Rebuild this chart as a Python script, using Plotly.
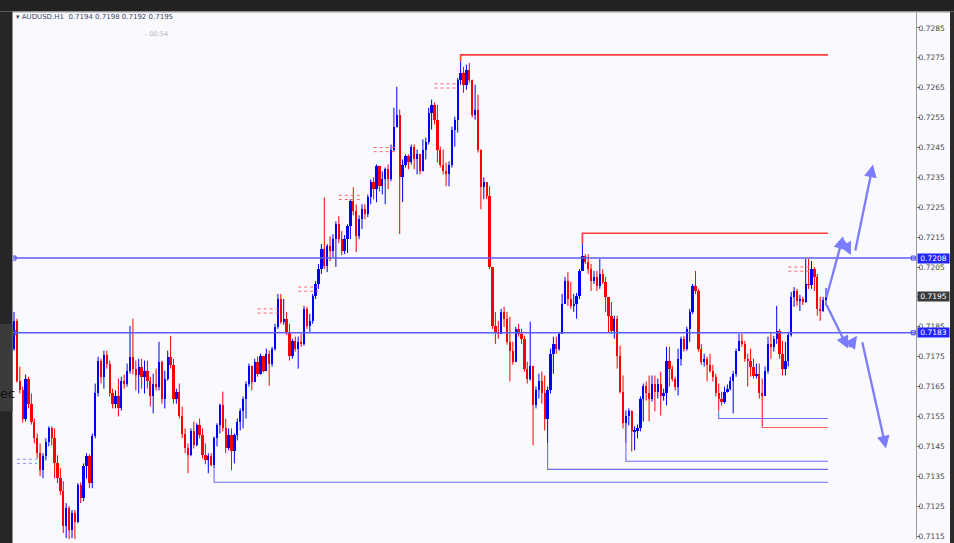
import plotly.graph_objects as go

# ---------------- data (AUDUSD H1) ----------------
first_open = 0.71777
close = [
0.71870, 0.71670, 0.71637, 0.71540, 0.71677, 0.71593, 0.71533, 0.71477, 0.71427, 0.71370,
0.71417, 0.71463, 0.71510, 0.71477, 0.71393, 0.71343, 0.71300, 0.71183, 0.71243, 0.71170,
0.71227, 0.71197, 0.71320, 0.71277, 0.71383, 0.71417, 0.71327, 0.71483, 0.71627, 0.71737,
0.71683, 0.71757, 0.71727, 0.71627, 0.71593, 0.71620, 0.71577, 0.71670, 0.71657, 0.71703,
0.71750, 0.71710, 0.71690, 0.71717, 0.71683, 0.71703, 0.71670, 0.71617, 0.71660, 0.71650,
0.71733, 0.71610, 0.71677, 0.71750, 0.71723, 0.71610, 0.71633, 0.71553, 0.71493, 0.71443,
0.71420, 0.71500, 0.71453, 0.71520, 0.71487, 0.71420, 0.71403, 0.71417, 0.71387, 0.71477,
0.71520, 0.71587, 0.71510, 0.71443, 0.71487, 0.71433, 0.71487, 0.71533, 0.71567, 0.71610,
0.71660, 0.71720, 0.71667, 0.71733, 0.71693, 0.71753, 0.71703, 0.71760, 0.71727, 0.71777,
0.71850, 0.71943, 0.71867, 0.71877, 0.71833, 0.71753, 0.71803, 0.71777, 0.71800, 0.71793,
0.71910, 0.71853, 0.71870, 0.71953, 0.71993, 0.72043, 0.72110, 0.72053, 0.72120, 0.72103,
0.72143, 0.72193, 0.72143, 0.72103, 0.72143, 0.72187, 0.72270, 0.72237, 0.72153, 0.72210,
0.72243, 0.72227, 0.72283, 0.72333, 0.72310, 0.72387, 0.72320, 0.72343, 0.72377, 0.72343,
0.72443, 0.72520, 0.72560, 0.72350, 0.72393, 0.72420, 0.72400, 0.72453, 0.72410, 0.72427,
0.72370, 0.72443, 0.72467, 0.72567, 0.72593, 0.72543, 0.72443, 0.72393, 0.72370, 0.72360,
0.72393, 0.72510, 0.72543, 0.72677, 0.72700, 0.72660, 0.72710, 0.72677, 0.72560, 0.72577,
0.72443, 0.72317, 0.72333, 0.72287, 0.72050, 0.71853, 0.71833, 0.71827, 0.71900, 0.71877,
0.71800, 0.71770, 0.71733, 0.71843, 0.71827, 0.71810, 0.71710, 0.71677, 0.71720, 0.71587,
0.71637, 0.71670, 0.71627, 0.71543, 0.71637, 0.71760, 0.71793, 0.71777, 0.71827, 0.71927,
0.72003, 0.71943, 0.71920, 0.71927, 0.71953, 0.72037, 0.72087, 0.72067, 0.72043, 0.72003,
0.72017, 0.71987, 0.72027, 0.72000, 0.71950, 0.71887, 0.71837, 0.71877, 0.71753, 0.71633,
0.71527, 0.71550, 0.71567, 0.71500, 0.71503, 0.71510, 0.71610, 0.71653, 0.71627, 0.71610,
0.71660, 0.71633, 0.71660, 0.71617, 0.71627, 0.71737, 0.71710, 0.71677, 0.71650, 0.71743,
0.71810, 0.71777, 0.71843, 0.71900, 0.71987, 0.71970, 0.71777, 0.71733, 0.71743, 0.71723,
0.71703, 0.71683, 0.71627, 0.71610, 0.71600, 0.71633, 0.71643, 0.71670, 0.71693, 0.71770,
0.71803, 0.71793, 0.71743, 0.71737, 0.71717, 0.71687, 0.71693, 0.71627, 0.71620, 0.71703,
0.71793, 0.71783, 0.71810, 0.71837, 0.71760, 0.71710, 0.71737, 0.71823, 0.71950, 0.71970,
0.71937, 0.71943, 0.71933, 0.71993, 0.71990, 0.72043, 0.72017, 0.71910, 0.71903, 0.71940,
0.71950,
]
high = [
0.71900, 0.71877, 0.71717, 0.71650, 0.71690, 0.71683, 0.71627, 0.71543, 0.71493, 0.71460,
0.71427, 0.71477, 0.71517, 0.71517, 0.71510, 0.71420, 0.71377, 0.71333, 0.71260, 0.71250,
0.71237, 0.71237, 0.71327, 0.71330, 0.71393, 0.71427, 0.71423, 0.71493, 0.71660, 0.71750,
0.71743, 0.71770, 0.71770, 0.71737, 0.71643, 0.71637, 0.71677, 0.71683, 0.71690, 0.71727,
0.71853, 0.71877, 0.71737, 0.71743, 0.71743, 0.71737, 0.71737, 0.71683, 0.71693, 0.71710,
0.71800, 0.71737, 0.71703, 0.71770, 0.71820, 0.71743, 0.71643, 0.71660, 0.71583, 0.71510,
0.71460, 0.71510, 0.71533, 0.71527, 0.71543, 0.71510, 0.71460, 0.71427, 0.71427, 0.71483,
0.71527, 0.71593, 0.71633, 0.71543, 0.71510, 0.71510, 0.71493, 0.71543, 0.71577, 0.71617,
0.71667, 0.71727, 0.71717, 0.71743, 0.71750, 0.71760, 0.71753, 0.71777, 0.71770, 0.71783,
0.71860, 0.71960, 0.71960, 0.71943, 0.71900, 0.71860, 0.71810, 0.71817, 0.71817, 0.71827,
0.71920, 0.71917, 0.71893, 0.71960, 0.72003, 0.72060, 0.72127, 0.72283, 0.72127, 0.72153,
0.72160, 0.72203, 0.72220, 0.72170, 0.72157, 0.72193, 0.72277, 0.72317, 0.72260, 0.72223,
0.72260, 0.72260, 0.72293, 0.72343, 0.72350, 0.72393, 0.72377, 0.72370, 0.72383, 0.72393,
0.72460, 0.72583, 0.72653, 0.72577, 0.72410, 0.72427, 0.72427, 0.72460, 0.72460, 0.72443,
0.72420, 0.72477, 0.72483, 0.72583, 0.72610, 0.72600, 0.72593, 0.72453, 0.72443, 0.72400,
0.72403, 0.72520, 0.72553, 0.72683, 0.72737, 0.72720, 0.72727, 0.72733, 0.72677, 0.72660,
0.72627, 0.72443, 0.72350, 0.72333, 0.72320, 0.72050, 0.71900, 0.71870, 0.71910, 0.71917,
0.71900, 0.71883, 0.71800, 0.71850, 0.71860, 0.71843, 0.71820, 0.71733, 0.71867, 0.71710,
0.71650, 0.71693, 0.71700, 0.71687, 0.71650, 0.71777, 0.71817, 0.71817, 0.71833, 0.71960,
0.72017, 0.72033, 0.72000, 0.71960, 0.71963, 0.72043, 0.72127, 0.72093, 0.72093, 0.72060,
0.72037, 0.72037, 0.72077, 0.72043, 0.72017, 0.71943, 0.71933, 0.71887, 0.71887, 0.71787,
0.71687, 0.71570, 0.71577, 0.71570, 0.71517, 0.71523, 0.71617, 0.71660, 0.71667, 0.71687,
0.71687, 0.71687, 0.71677, 0.71700, 0.71643, 0.71783, 0.71783, 0.71720, 0.71683, 0.71777,
0.71817, 0.71820, 0.71850, 0.71910, 0.71993, 0.72037, 0.71977, 0.71793, 0.71760, 0.71750,
0.71760, 0.71723, 0.71693, 0.71660, 0.71633, 0.71650, 0.71657, 0.71683, 0.71703, 0.71777,
0.71827, 0.71827, 0.71803, 0.71760, 0.71777, 0.71743, 0.71727, 0.71727, 0.71677, 0.71717,
0.71817, 0.71833, 0.71820, 0.71920, 0.71843, 0.71803, 0.71800, 0.71833, 0.71967, 0.71983,
0.71977, 0.71957, 0.71950, 0.72077, 0.72077, 0.72070, 0.72050, 0.72027, 0.71950, 0.71950,
0.71980,
]
low = [
0.71770, 0.71663, 0.71627, 0.71530, 0.71533, 0.71577, 0.71523, 0.71460, 0.71410, 0.71350,
0.71343, 0.71403, 0.71450, 0.71453, 0.71343, 0.71327, 0.71287, 0.71160, 0.71143, 0.71127,
0.71143, 0.71127, 0.71193, 0.71260, 0.71267, 0.71343, 0.71310, 0.71310, 0.71477, 0.71617,
0.71660, 0.71643, 0.71710, 0.71617, 0.71577, 0.71577, 0.71550, 0.71570, 0.71643, 0.71650,
0.71693, 0.71690, 0.71637, 0.71627, 0.71643, 0.71627, 0.71643, 0.71583, 0.71560, 0.71637,
0.71637, 0.71593, 0.71577, 0.71670, 0.71710, 0.71593, 0.71593, 0.71543, 0.71477, 0.71427,
0.71360, 0.71417, 0.71443, 0.71450, 0.71477, 0.71410, 0.71390, 0.71360, 0.71383, 0.71377,
0.71450, 0.71493, 0.71500, 0.71427, 0.71437, 0.71370, 0.71393, 0.71470, 0.71503, 0.71510,
0.71543, 0.71650, 0.71637, 0.71670, 0.71683, 0.71690, 0.71697, 0.71703, 0.71653, 0.71717,
0.71770, 0.71843, 0.71860, 0.71857, 0.71823, 0.71737, 0.71743, 0.71767, 0.71710, 0.71783,
0.71787, 0.71843, 0.71833, 0.71860, 0.71943, 0.71977, 0.72027, 0.72043, 0.72033, 0.72070,
0.72083, 0.72050, 0.72130, 0.72090, 0.72093, 0.72097, 0.72143, 0.72223, 0.72100, 0.72143,
0.72177, 0.72210, 0.72217, 0.72260, 0.72277, 0.72267, 0.72303, 0.72293, 0.72260, 0.72310,
0.72337, 0.72437, 0.72517, 0.72160, 0.72267, 0.72383, 0.72377, 0.72393, 0.72377, 0.72360,
0.72360, 0.72370, 0.72410, 0.72460, 0.72510, 0.72527, 0.72400, 0.72383, 0.72360, 0.72320,
0.72320, 0.72383, 0.72453, 0.72500, 0.72660, 0.72633, 0.72643, 0.72667, 0.72550, 0.72543,
0.72433, 0.72243, 0.72277, 0.72277, 0.72043, 0.71843, 0.71793, 0.71810, 0.71833, 0.71850,
0.71790, 0.71667, 0.71723, 0.71737, 0.71817, 0.71793, 0.71700, 0.71660, 0.71670, 0.71453,
0.71577, 0.71610, 0.71593, 0.71503, 0.71460, 0.71627, 0.71693, 0.71760, 0.71770, 0.71827,
0.71927, 0.71920, 0.71910, 0.71900, 0.71877, 0.71943, 0.72037, 0.72060, 0.72027, 0.71970,
0.71993, 0.71970, 0.71977, 0.71993, 0.71900, 0.71833, 0.71827, 0.71810, 0.71710, 0.71627,
0.71510, 0.71460, 0.71520, 0.71433, 0.71437, 0.71477, 0.71500, 0.71533, 0.71603, 0.71533,
0.71600, 0.71567, 0.71610, 0.71553, 0.71603, 0.71587, 0.71650, 0.71667, 0.71637, 0.71620,
0.71720, 0.71767, 0.71770, 0.71800, 0.71893, 0.71960, 0.71767, 0.71723, 0.71717, 0.71667,
0.71697, 0.71667, 0.71617, 0.71567, 0.71587, 0.71593, 0.71630, 0.71637, 0.71560, 0.71683,
0.71770, 0.71783, 0.71733, 0.71650, 0.71683, 0.71677, 0.71677, 0.71610, 0.71517, 0.71677,
0.71693, 0.71743, 0.71767, 0.71793, 0.71743, 0.71687, 0.71687, 0.71717, 0.71817, 0.71917,
0.71920, 0.71903, 0.71923, 0.71930, 0.71977, 0.71977, 0.71970, 0.71887, 0.71870, 0.71900,
0.71920,
]

# horizontal price levels across the whole chart
hline_prices = [0.7208, 0.7183]
hline_labels = ["0.7208", "0.7183"]
current_price = 0.7195
current_label = "0.7195"

# resistance levels (red) drawn from a bar high
res_prices = [0.7276, 0.72163]
res_start = [154, 196]
# support levels drawn from a bar low
sup_prices = [0.7133, 0.71373, 0.7140, 0.71543, 0.71513]
sup_start = [69, 184, 211, 243, 258]
sup_colors = ["#6E6EFF", "#6E6EFF", "#6E6EFF", "#6E6EFF", "#FF5A5A"]

# trade markers (double dotted short lines)
mark_start = [84, 98, 112, 124, 145, 267, 1]
mark_end = [91, 105, 120, 132, 153, 275, 8]
mark_price = [0.71910, 0.71983, 0.72290, 0.72450, 0.72663, 0.72050, 0.71407]
mark_color = ["#FF6A6A", "#FF6A6A", "#FF6A6A", "#FF6A6A", "#FF6A6A", "#FF6A6A", "#8C8CFF"]

# projected path arrows: (tail bar, tail price, head bar, head price)
arrows = [
    (280.0, 0.71943, 285.9, 0.72153),
    (285.9, 0.72143, 288.6, 0.72090),
    (290.0, 0.72100, 296.2, 0.72393),
    (280.0, 0.71927, 287.6, 0.71777),
    (287.6, 0.71777, 290.7, 0.71820),
    (292.4, 0.71803, 300.7, 0.71443),
]

tick_vals = [0.7115, 0.7125, 0.7135, 0.7145, 0.7155, 0.7165, 0.7175, 0.7185, 0.7195,
             0.7205, 0.7215, 0.7225, 0.7235, 0.7245, 0.7255, 0.7265, 0.7275, 0.7285]
tick_text = ["0.7115", "0.7125", "0.7135", "0.7145", "0.7155", "0.7165", "0.7175", "0.7185", "0.7195",
             "0.7205", "0.7215", "0.7225", "0.7235", "0.7245", "0.7255", "0.7265", "0.7275", "0.7285"]

title_text = "AUDUSD.H1  0.7194 0.7198 0.7192 0.7195"
timer_text = "- 00:54"
side_text = "ec"

# ---------------- geometry ----------------
W, H = 954, 543
ML, MR, MT, MB = 13, 38, 12, 2
PW, PH = W - ML - MR, H - MT - MB
BAR_PX = 2.9
x_lo = -1.0 / BAR_PX
x_hi = x_lo + PW / BAR_PX
y_lo = 0.71140
y_hi = y_lo + PH / 30000.0

n = len(close)
idx = list(range(n))
opens = [first_open] + close[:-1]
hi = [max(h, o, c) for h, o, c in zip(high, opens, close)]
lo = [min(l, o, c) for l, o, c in zip(low, opens, close)]
up = [c > o for o, c in zip(opens, close)]

BLUE = "#0000FF"
RED = "#FF0000"
FONT = "DejaVu Sans"

fig = go.Figure()

# wicks
for flag, col in ((True, BLUE), (False, RED)):
    wx, wy = [], []
    for i in idx:
        if up[i] == flag:
            wx += [i, i, None]
            wy += [lo[i], hi[i], None]
    fig.add_trace(go.Scatter(x=wx, y=wy, mode="lines",
                             line=dict(color=col, width=1), hoverinfo="skip"))

# bodies
base = [min(o, c) for o, c in zip(opens, close)]
height = [max(abs(c - o), 0.00003) for o, c in zip(opens, close)]
fig.add_trace(go.Bar(x=idx, y=height, base=base, width=0.8,
                     marker=dict(color=[BLUE if u else RED for u in up], line=dict(width=0)),
                     hoverinfo="skip"))

last_x = n - 1 + 0.7


def py(pix):
    return (H - MB - pix) / PH


shapes = []
# dark frame pieces (window chrome around the chart)
shapes.append(dict(type="rect", xref="paper", yref="paper",
                   x0=-ML / PW - 0.02, x1=1 + MR / PW + 0.02,
                   y0=1 + 0.5 / PH, y1=1 + MT / PH + 0.02,
                   fillcolor="#232323", line=dict(width=0), layer="below"))
shapes.append(dict(type="rect", xref="paper", yref="paper",
                   x0=-ML / PW - 0.02, x1=-0.5 / PW,
                   y0=-MB / PH - 0.02, y1=1 + 0.5 / PH,
                   fillcolor="#262626", line=dict(width=0), layer="below"))
# lighter side panel behind the cut-off text
shapes.append(dict(type="rect", xref="paper", yref="paper",
                   x0=-ML / PW - 0.02, x1=-0.5 / PW, y0=py(413), y1=py(325),
                   fillcolor="#3A3A3A", line=dict(width=0), layer="below"))
shapes.append(dict(type="rect", xref="paper", yref="paper",
                   x0=1 + 34 / PW, x1=1 + MR / PW + 0.02,
                   y0=-MB / PH - 0.02, y1=1 + 0.5 / PH,
                   fillcolor="#2B2B2B", line=dict(width=0), layer="below"))
shapes.append(dict(type="line", xref="paper", yref="paper", x0=0, x1=1 + 34 / PW, y0=1, y1=1,
                   line=dict(color="#9A9A9A", width=1)))

# full-width lines
for p in hline_prices:
    shapes.append(dict(type="line", xref="paper", x0=0, x1=1, yref="y", y0=p, y1=p,
                       line=dict(color="#5C5CFF", width=1.6)))
    fig.add_trace(go.Scatter(x=[x_lo + 0.35, x_hi - 0.9], y=[p, p], mode="markers",
                             marker=dict(symbol="square-open", size=4, color="#3A3AFF",
                                         line=dict(width=1)), hoverinfo="skip"))

# resistance lines from bar highs
for p, s in zip(res_prices, res_start):
    fig.add_trace(go.Scatter(x=[s, s, last_x], y=[hi[s], p, p], mode="lines",
                             line=dict(color="#FF3B3B", width=1.6), hoverinfo="skip"))

# support lines from bar lows
for p, s, col in zip(sup_prices, sup_start, sup_colors):
    fig.add_trace(go.Scatter(x=[s, s, last_x], y=[lo[s], p, p], mode="lines",
                             line=dict(color=col, width=1.1), hoverinfo="skip"))

# trade markers
for a, b, p, col in zip(mark_start, mark_end, mark_price, mark_color):
    for off in (0.0, -0.00014):
        fig.add_trace(go.Scatter(x=[a, b], y=[p + off, p + off], mode="lines",
                                 line=dict(color=col, width=1, dash="dot"), hoverinfo="skip"))

annotations = []
for tx, ty, hx, hy in arrows:
    annotations.append(dict(x=hx, y=hy, ax=tx, ay=ty, xref="x", yref="y", axref="x", ayref="y",
                            showarrow=True, text="", arrowhead=2, arrowsize=1.1,
                            arrowwidth=2.3, arrowcolor="#7C7CFF", standoff=0))

# price labels on the axis
for p, t in zip(hline_prices, hline_labels):
    annotations.append(dict(x=1, xref="paper", y=p, yref="y", xanchor="left", yanchor="middle",
                            xshift=1, text=t, showarrow=False, bgcolor="#2424FF",
                            font=dict(color="white", size=7.5, family=FONT),
                            borderpad=0, width=31, height=9, align="center"))
annotations.append(dict(x=1, xref="paper", y=current_price, yref="y", xanchor="left",
                        yanchor="middle", xshift=1, text=current_label, showarrow=False,
                        bgcolor="#3A3A3A", font=dict(color="white", size=7.5, family=FONT),
                        borderpad=0, width=31, height=9, align="center"))

# header texts
annotations.append(dict(x=(14 - ML) / PW, xref="paper", y=1 - 5.5 / PH, yref="paper",
                        xanchor="left", yanchor="middle", showarrow=False,
                        text="▾ " + title_text,
                        font=dict(color="#3B4863", size=7, family=FONT)))
annotations.append(dict(x=(156 - ML) / PW, xref="paper", y=1 - 22 / PH, yref="paper",
                        xanchor="center", yanchor="middle", showarrow=False, text=timer_text,
                        font=dict(color="#B8B8C0", size=6.5, family=FONT)))
annotations.append(dict(x=(-2 - ML) / PW, xref="paper", y=py(395), yref="paper",
                        xanchor="left", yanchor="middle", showarrow=False, text=side_text,
                        font=dict(color="#101010", size=13, family=FONT)))

fig.update_layout(
    width=W, height=H,
    margin=dict(l=ML, r=MR, t=MT, b=MB, pad=0),
    paper_bgcolor="#F9F9FE", plot_bgcolor="#F9F9FE",
    showlegend=False, hovermode=False, bargap=0,
    xaxis=dict(range=[x_lo, x_hi], visible=False, fixedrange=True),
    yaxis=dict(range=[y_lo, y_hi], side="right", showgrid=False, zeroline=False,
               tickvals=tick_vals, ticktext=tick_text, ticks="outside", ticklen=3,
               ticklabelstandoff=-3,
               tickcolor="#777777", tickfont=dict(size=7.5, color="#4A4A4A", family=FONT),
               showline=True, linecolor="#9A9A9A", linewidth=1.2, fixedrange=True),
)
fig.layout.shapes = shapes
fig.layout.annotations = annotations

fig.write_html(
    "out.html",
    config={"displayModeBar": False},
    post_script="document.body.style.margin='0px';document.body.style.padding='0px';"
                "document.body.style.overflow='hidden';",
)
